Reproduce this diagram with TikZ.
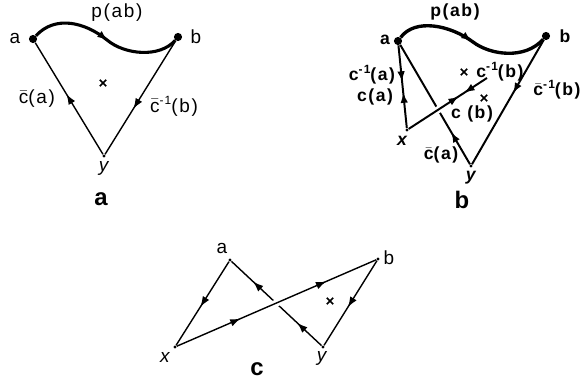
\documentclass[tikz,border=0pt]{standalone}
\usepackage{fontspec}
\setmainfont{Liberation Sans}[LetterSpace=9]
\usetikzlibrary{arrows.meta,decorations.markings,shapes.misc}

\newcommand{\cb}{$\bar{\mbox{c}}$}
\newcommand{\inv}{\raisebox{0.42em}{\fontsize{8.5}{9}\selectfont -1}}

\tikzset{
  bigdot/.style={circle,fill,inner sep=0pt,minimum size=5.8pt},
  smalldot/.style={circle,fill,inner sep=0pt,minimum size=2.4pt},
  cross/.style={draw,cross out,inner sep=0pt,minimum size=3.5pt,line width=1.1pt},
  tip/.style={postaction={decorate,decoration={markings,
      mark=at position #1 with {\arrow{Latex[length=2.6mm,width=1.9mm]}}}}},
  revtip/.style={postaction={decorate,decoration={markings,
      mark=at position #1 with {\arrowreversed{Latex[length=2.6mm,width=1.9mm]}}}}},
  over/.style={preaction={draw,white,line width=5pt,shorten <=12pt,shorten >=12pt}},
  figlab/.style={font=\fontsize{17}{20}\selectfont\bfseries},
  lab/.style={inner sep=0pt,font=\fontsize{13.5}{15}\selectfont},
  blab/.style={inner sep=0pt,font=\fontsize{12.5}{14}\selectfont\bfseries}
}

\begin{document}
\begin{tikzpicture}[x=0.025cm,y=-0.025cm,line join=round]
    \useasboundingbox (0,0) rectangle (585,392);

    % panel a
    \node[bigdot] (a1) at (33,39) {};
    \node[bigdot] (b1) at (178,37) {};
    \node[smalldot] (y1) at (104,156) {};
    \node[cross] (s1) at (103,83) {};

    \draw[line width=2.2pt, tip=0.52] (a1) .. controls (55,15) and (85,22) .. (107,40)
        .. controls (125,55) and (160,58) .. (b1);
    \draw[line width=1pt, tip=0.54] (y1) -- (a1);
    \draw[line width=1pt, tip=0.6] (b1) -- (y1);

    \node[lab] at (15,38) {a};
    \node[lab] at (196,37) {b};
    \node[lab] at (117,13) {p(ab)};
    \node[lab] at (37,99) {\cb(a)};
    \node[lab] at (174,106) {\cb\inv(b)};
    \node[lab] at (105,168) {\textit{y}};
    \node[figlab] at (101,199) {a};

    % panel b
    \node[bigdot] (a2) at (398,41) {};
    \node[bigdot] (b2) at (546,36) {};
    \node[smalldot] (x2) at (407,130) {};
    \node[smalldot] (y2) at (471,166) {};
    \coordinate (e2) at (487,78);
    \node[cross] (s2) at (464,72) {};
    \node[cross] (s3) at (484,98) {};

    \draw[line width=2.4pt, tip=0.5] (a2) .. controls (415,18) and (450,25) .. (473,42)
        .. controls (490,55) and (525,60) .. (b2);
    \draw[line width=1.4pt, tip=0.44, revtip=0.57] (a2) -- (x2);
    \draw[line width=1.4pt, tip=0.27] (y2) -- (a2);
    \draw[line width=1.4pt, tip=0.43] (b2) -- (y2);
    \draw[line width=1.4pt, over, tip=0.64, revtip=0.71] (x2) -- (e2);

    \node[blab] at (385,40) {a};
    \node[blab] at (565,36) {b};
    \node[blab] at (455,12) {p(ab)};
    \node[blab] at (372,75) {c\inv(a)};
    \node[blab] at (375,97) {c(a)};
    \node[blab] at (500,72) {c\inv(b)};
    \node[blab] at (472,114) {c (b)};
    \node[blab] at (557,90) {\cb\inv(b)};
    \node[blab] at (441,155) {\cb(a)};
    \node[blab] at (403,141) {\textit{x}};
    \node[blab] at (472,178) {\textit{y}};
    \node[figlab] at (462,200) {b};

    % panel c
    \node[smalldot] (a3) at (230,260) {};
    \node[smalldot] (b3) at (378,259) {};
    \node[smalldot] (x3) at (175,347) {};
    \node[smalldot] (y3) at (323,347) {};
    \node[cross] (s4) at (330,301) {};

    \draw[line width=1pt, tip=0.54] (a3) -- (x3);
    \draw[line width=1pt, tip=0.27, tip=0.76] (y3) -- (a3);
    \draw[line width=1pt, tip=0.55] (b3) -- (y3);
    \draw[line width=1pt, over, tip=0.32, tip=0.75] (x3) -- (b3);

    \node[lab] at (222,248) {a};
    \node[lab] at (389,258) {b};
    \node[lab] at (166,357) {\textit{x}};
    \node[lab] at (323,358) {\textit{y}};
    \node[figlab] at (257,369) {c};
\end{tikzpicture}
\end{document}
